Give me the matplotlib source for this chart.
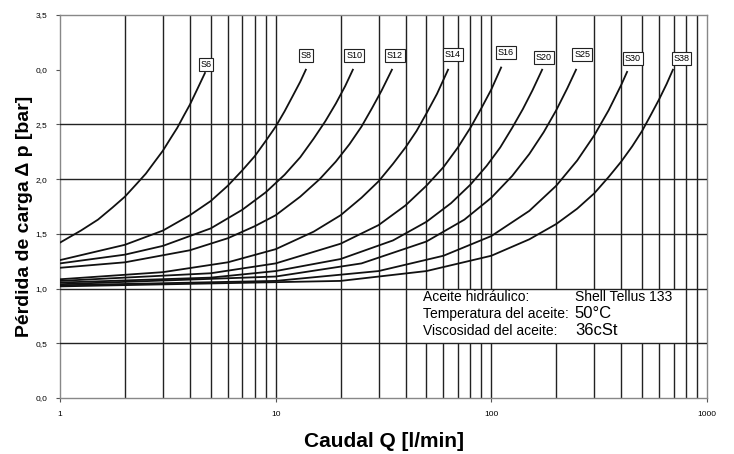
import matplotlib
matplotlib.use("Agg")
import matplotlib.pyplot as plt
from matplotlib.patches import Rectangle

plt.rcParams['font.family'] = ['Liberation Sans', 'DejaVu Sans']

# filter sizes and their curves (caudal Q [l/min] -> perdida de carga [bar])
names = ["S6", "S8", "S10", "S12", "S14", "S16", "S20", "S25", "S30", "S38"]

q_s6 = [1, 1.25, 1.5, 1.75, 2, 2.25, 2.5, 2.75, 3, 3.25, 3.5, 3.75, 4, 4.35, 4.7]
p_s6 = [1.42, 1.53, 1.63, 1.74, 1.84, 1.95, 2.05, 2.16, 2.26, 2.37, 2.47, 2.58, 2.68, 2.83, 2.97]
q_s8 = [1, 2, 3, 4, 5, 6, 7, 8, 9, 10, 11, 12, 13, 13.8]
p_s8 = [1.26, 1.40, 1.53, 1.67, 1.80, 1.94, 2.08, 2.21, 2.35, 2.48, 2.62, 2.76, 2.89, 3.00]
q_s10 = [1, 2, 3, 5, 7, 9, 11, 13, 15, 17, 19, 21, 22.8]
p_s10 = [1.23, 1.31, 1.39, 1.55, 1.72, 1.88, 2.04, 2.20, 2.37, 2.53, 2.69, 2.85, 3.00]
q_s12 = [1, 2, 4, 6, 8, 10, 13, 16, 19, 22, 25, 28, 31, 34.6]
p_s12 = [1.19, 1.24, 1.35, 1.46, 1.57, 1.67, 1.84, 2.00, 2.16, 2.32, 2.48, 2.65, 2.81, 3.00]
q_s14 = [1, 3, 6, 10, 15, 20, 25, 30, 35, 40, 45, 50, 56, 63]
p_s14 = [1.085, 1.15, 1.24, 1.36, 1.52, 1.67, 1.83, 1.98, 2.14, 2.29, 2.44, 2.60, 2.78, 3.00]
q_s16 = [1, 5, 10, 20, 30, 40, 50, 60, 70, 80, 90, 100, 111]
p_s16 = [1.07, 1.14, 1.23, 1.41, 1.58, 1.76, 1.94, 2.11, 2.29, 2.47, 2.65, 2.82, 3.02]
q_s20 = [1, 5, 10, 20, 35, 50, 65, 80, 95, 110, 125, 140, 155, 172]
p_s20 = [1.055, 1.10, 1.16, 1.27, 1.44, 1.61, 1.78, 1.95, 2.12, 2.29, 2.47, 2.64, 2.81, 3.00]
q_s25 = [1, 10, 25, 50, 75, 100, 125, 150, 175, 200, 225, 247]
p_s25 = [1.04, 1.11, 1.23, 1.43, 1.63, 1.83, 2.03, 2.23, 2.43, 2.63, 2.83, 3.00]
q_s30 = [1, 10, 30, 60, 100, 150, 200, 250, 300, 350, 400, 426]
p_s30 = [1.03, 1.07, 1.16, 1.30, 1.48, 1.71, 1.94, 2.17, 2.40, 2.63, 2.86, 2.98]
q_s38 = [1, 20, 50, 100, 150, 200, 250, 300, 350, 400, 450, 500, 550, 600, 650, 695]
p_s38 = [1.02, 1.07, 1.16, 1.30, 1.45, 1.59, 1.73, 1.87, 2.02, 2.16, 2.30, 2.44, 2.59, 2.73, 2.87, 3.00]

curves_q = [q_s6, q_s8, q_s10, q_s12, q_s14, q_s16, q_s20, q_s25, q_s30, q_s38]
curves_p = [p_s6, p_s8, p_s10, p_s12, p_s14, p_s16, p_s20, p_s25, p_s30, p_s38]

# where the name boxes sit
label_q = [4.75, 13.8, 23.1, 35.7, 66.4, 117, 175, 264, 454, 761]
label_p = [3.05, 3.13, 3.13, 3.13, 3.14, 3.16, 3.11, 3.14, 3.10, 3.10]

y_ticks = [0, 0.5, 1.0, 1.5, 2.0, 2.5, 3.0, 3.5]
y_ticklabels = ["0,0", "0,5", "1,0", "1,5", "2,0", "2,5", "0,0", "3,5"]
x_ticks = [1, 10, 100, 1000]
x_ticklabels = ["1", "10", "100", "1000"]
h_grid = [0.5, 1.0, 1.5, 2.0, 2.5]
v_grid = [2, 3, 4, 5, 6, 7, 8, 9, 10, 20, 30, 40, 50, 60, 70, 80, 90, 100,
          200, 300, 400, 500, 600, 700, 800, 900]

info_left = ["Aceite hidráulico:", "Temperatura del aceite:", "Viscosidad del aceite:"]
info_right = ["Shell Tellus 133", "50°C", "36cSt"]

fig = plt.figure(figsize=(7.34, 4.54), dpi=100)
ax = fig.add_axes([60/734, 56/454, 647/734, 383/454])
ax.set_xscale('log')
ax.set_xlim(1, 1000)
ax.set_ylim(0, 3.5)

for v in v_grid:
    ax.axvline(v, color='#222222', lw=1.0, zorder=1)
for h in h_grid:
    ax.axhline(h, color='#222222', lw=1.0, zorder=3)

# white patch behind the oil data
ax.add_patch(Rectangle((41, 0.5), 785 - 41, 0.5, fc='white', ec='none', zorder=2))

for q, p in zip(curves_q, curves_p):
    ax.plot(q, p, color='#111111', lw=1.3, zorder=4)

for name, lq, lp in zip(names, label_q, label_p):
    ax.text(lq, lp, name, fontsize=6.5, ha='center', va='center', zorder=5,
            bbox=dict(boxstyle='square,pad=0.2', fc='white', ec='#222222', lw=0.8))

for i, (a, b) in enumerate(zip(info_left, info_right)):
    yy = [0.92, 0.768, 0.615][i]
    ax.text(48, yy, a, fontsize=10, va='center', zorder=5)
    ax.text(244, yy, b, fontsize=10 if i == 0 else 12, va='center', zorder=5)

ax.set_yticks(y_ticks)
ax.set_yticklabels(y_ticklabels, fontsize=6)
ax.set_xticks(x_ticks)
ax.set_xticklabels(x_ticklabels, fontsize=6)
ax.xaxis.set_minor_locator(matplotlib.ticker.NullLocator())
ax.tick_params(axis='both', length=3, width=0.8, color='#555555', pad=6)
for s in ax.spines.values():
    s.set_color('#888888')
    s.set_linewidth(1.0)

ax.set_ylabel("Pérdida de carga Δ p [bar]", fontsize=14, fontweight='bold')
ax.yaxis.set_label_coords(-0.042, 0.473)
ax.set_xlabel("Caudal Q [l/min]", fontsize=15, fontweight='bold')
ax.xaxis.set_label_coords(0.5, -0.09)

fig.savefig("out.png", dpi=100)
